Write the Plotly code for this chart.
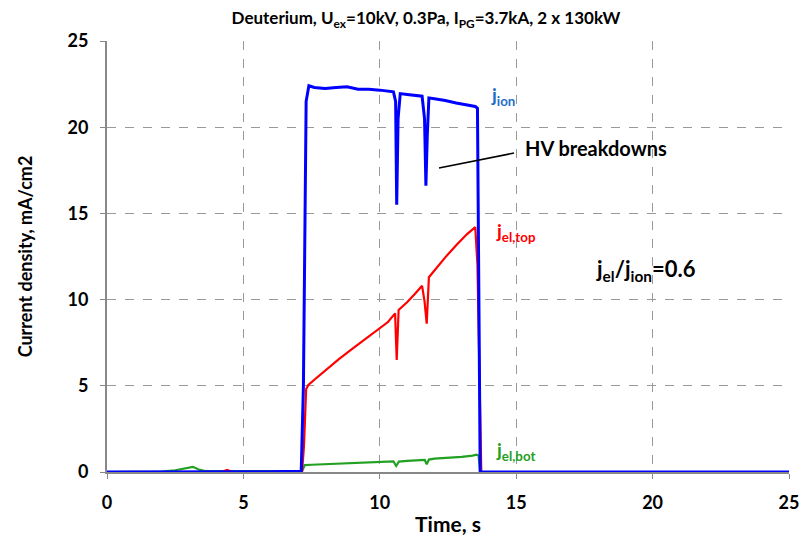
import plotly.graph_objects as go

# ---- data ----
t_ion = [0, 3.0, 6.0, 7.12, 7.2, 7.3, 7.4, 7.6, 8.0, 8.4, 8.8, 9.2, 9.6, 10.0, 10.3, 10.5,
         10.58, 10.62, 10.67, 10.75, 11.0, 11.3, 11.55, 11.64, 11.69, 11.74, 11.8,
         12.0, 12.4, 12.8, 13.2, 13.5, 13.58, 13.68, 20.0, 25]
j_ion = [0, 0, 0.02, 0.05, 5.0, 21.5, 22.4, 22.3, 22.25, 22.3, 22.35, 22.2, 22.2, 22.15, 22.1, 22.05,
         21.5, 15.5, 20.5, 21.95, 21.9, 21.85, 21.8, 20.5, 16.6, 19.5, 21.7,
         21.65, 21.55, 21.4, 21.3, 21.2, 21.1, 0, 0, 0]

t_top = [0, 4.2, 4.4, 4.6, 7.15, 7.22, 7.3, 7.38, 7.6, 8.0, 8.5, 9.0, 9.5, 10.0, 10.3, 10.56,
         10.62, 10.69, 11.0, 11.3, 11.55, 11.64, 11.72, 11.8, 12.0, 12.4, 12.8, 13.2, 13.5,
         13.58, 13.72, 25]
j_top = [0, 0, 0.12, 0, 0, 1.5, 4.8, 5.05, 5.35, 5.9, 6.55, 7.15, 7.75, 8.3, 8.7, 9.2,
         6.5, 9.4, 9.85, 10.35, 10.8, 9.9, 8.6, 11.3, 11.7, 12.45, 13.15, 13.8, 14.2,
         12.0, 0, 0]

t_bot = [0, 2.0, 2.5, 2.9, 3.15, 3.4, 3.6, 7.15, 7.25, 7.5, 8.0, 8.5, 9.0, 9.5, 10.0, 10.5,
         10.6, 10.7, 11.0, 11.5, 11.65, 11.72, 11.8, 12.0, 12.5, 13.0, 13.4, 13.55, 13.62, 13.68, 25]
j_bot = [0, 0.02, 0.1, 0.25, 0.3, 0.12, 0.05, 0.05, 0.4, 0.42, 0.45, 0.48, 0.52, 0.55, 0.58, 0.62,
         0.35, 0.6, 0.65, 0.7, 0.7, 0.45, 0.72, 0.78, 0.82, 0.88, 0.95, 1.0, 0.95, 0, 0]

x_ticks = [0, 5, 10, 15, 20, 25]
y_ticks = [0, 5, 10, 15, 20, 25]

FONT = "Lato"

fig = go.Figure()
fig.add_trace(go.Scatter(x=t_bot, y=j_bot, mode="lines", line=dict(color="#22a022", width=2.2),
                         showlegend=False))
fig.add_trace(go.Scatter(x=t_top, y=j_top, mode="lines", line=dict(color="#ff0000", width=2.2),
                         showlegend=False))
fig.add_trace(go.Scatter(x=t_ion, y=j_ion, mode="lines", line=dict(color="#0000ff", width=3),
                         showlegend=False))

axis_common = dict(
    showgrid=True, gridcolor="#999999", griddash="dash", gridwidth=1,
    showline=True, linecolor="#888888", linewidth=2,
    ticks="outside", ticklen=5, tickcolor="#888888",
    tickfont=dict(family=FONT, size=18, color="black", weight="bold"),
    zeroline=False, automargin=False,
)

fig.update_xaxes(range=[0, 25], tickvals=x_ticks, ticklabelstandoff=8, **axis_common,
                 title=dict(text="<b>Time, s</b>", font=dict(family=FONT, size=21, color="black"),
                            standoff=6))
fig.update_yaxes(range=[0, 25], tickvals=y_ticks, ticklabelstandoff=8, **axis_common,
                 title=dict(text="<b>Current density, mA/cm2</b>",
                            font=dict(family=FONT, size=18, color="black"), standoff=30))

ann = [
    dict(x=14.0, y=21.8, text="<b>j<sub>ion</sub></b>", color="#1f6fc8", size=19),
    dict(x=14.2, y=13.9, text="<b>j<sub>el,top</sub></b>", color="#ff0000", size=19),
    dict(x=14.2, y=1.2, text="<b>j<sub>el,bot</sub></b>", color="#22a022", size=19),
    dict(x=15.25, y=18.8, text="<b>HV breakdowns</b>", color="black", size=20),
    dict(x=17.85, y=11.7, text="<b>j<sub>el</sub>/j<sub>ion</sub>=0.6</b>", color="black", size=22),
]
for a in ann:
    fig.add_annotation(x=a["x"], y=a["y"], xref="x", yref="y", text=a["text"], showarrow=False,
                       xanchor="left", yanchor="middle",
                       font=dict(family=FONT, size=a["size"], color=a["color"]))

fig.add_shape(type="line", x0=12.17, y0=17.63, x1=14.92, y1=18.5, xref="x", yref="y",
              line=dict(color="black", width=1.5))

fig.update_layout(
    width=802, height=540,
    margin=dict(l=107, r=13, t=41, b=68, autoexpand=False),
    plot_bgcolor="white", paper_bgcolor="white",
    title=dict(text="<b>Deuterium, U<sub>ex</sub>=10kV, 0.3Pa, I<sub>PG</sub>=3.7kA, 2 x 130kW</b>",
               x=426 / 802, xanchor="center", y=1 - 18 / 540, yanchor="middle",
               font=dict(family=FONT, size=17, color="black")),
)

fig.write_html("out.html")
